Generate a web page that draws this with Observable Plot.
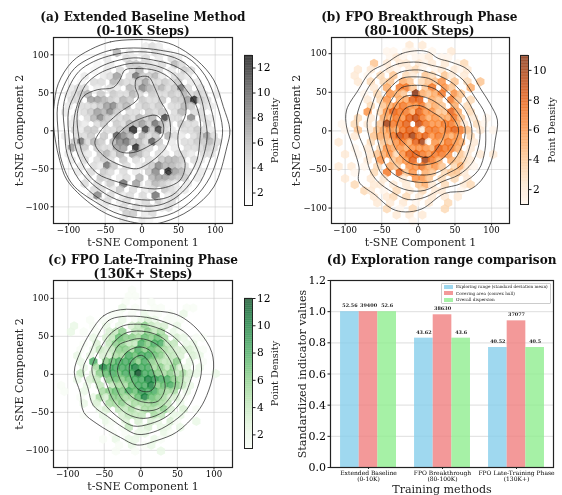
<!DOCTYPE html>
<html><head><meta charset="utf-8">
<script src="https://cdn.jsdelivr.net/npm/d3@7"></script>
<script src="https://cdn.jsdelivr.net/npm/@observablehq/plot@0.6"></script>
<style>
html,body{margin:0;padding:0;background:#fff}
#page{position:relative;width:562px;height:495px;overflow:hidden;font-family:"DejaVu Serif",serif;filter:blur(.3px)}
#page svg{position:absolute;background:transparent;overflow:visible}
.t{position:absolute;font-weight:bold;font-size:12.1px;line-height:14px;text-align:center;color:#111;white-space:nowrap;transform:translateX(-50%)}
#legend{position:absolute;left:441px;top:282.5px;width:110px;height:21px;background:rgba(255,255,255,.85);border:.5px solid #ccc;border-radius:1px;box-sizing:border-box}
#legend div{position:absolute;left:14px;font-size:4.2px;line-height:5px;white-space:nowrap;color:#222}
#legend i{position:absolute;left:1.5px;width:9px;height:4px}
</style></head><body><div id="page"></div>
<script>
// hexbin lattice (t-SNE units)
const colsE=[-108.9,-100.1,-91.3,-82.5,-73.7,-64.9,-56.1,-47.3,-38.5,-29.7,-20.9,-12.1,-3.3,5.5,14.3,23.1,31.9,40.7,49.5,58.3,67.1,75.9,84.7,93.5,102.3,111.1];
const colsO=[-113.3,-104.5,-95.7,-86.9,-78.1,-69.3,-60.5,-51.7,-42.9,-34.1,-25.3,-16.5,-7.7,1.1,9.9,18.7,27.5,36.3,45.1,53.9,62.7,71.5,80.3,89.1,97.9,106.7];
const rowY=[110.9,103,95.2,87.35,79.5,71.65,63.8,55.95,48.1,40.25,32.4,24.55,16.7,8.85,1,-6.85,-14.7,-22.55,-30.4,-38.25,-46.1,-53.95,-61.8,-69.65,-77.5,-85.35,-93.2,-101,-108.9,-116.8];
// per row: column index, density, column index, density ...
const gridA=[
[13,3,14,4,15,3],
[9,6,11,3,13,3,15,4,16,3,17,2],
[7,3,10,4,11,3,13,4,15,3,17,4,18,3],
[6,2,8,3,11,5,12,5,13,4,14,4,15,3,16,4,18,6,19,4],
[5,2,7,3,9,4,11,4,12,6,14,4,15,4,17,3,19,5,20,4],
[4,3,7,3,8,4,9,7,11,4,12,9,13,5,14,5,15,6,16,3,18,4,19,4,20,3],
[3,2,5,4,6,4,8,6,9,5,10,4,11,4,12,5,13,7,14,4,15,4,16,5,17,4,18,5,20,3,21,3],
[2,3,3,4,4,4,6,3,8,4,9,3,11,6,12,5,13,8,14,6,15,5,16,6,17,4,18,5,19,9,20,4,22,4],
[1,3,2,4,3,5,4,6,6,5,8,5,9,4,10,4,11,6,12,4,14,5,15,4,16,4,17,5,18,4,19,6,20,4,21,5,22,4,24,3],
[2,4,3,4,5,7,6,7,7,6,8,5,9,4,10,6,11,5,13,5,14,4,15,4,16,5,18,5,19,5,20,7,21,12,22,5,23,4],
[1,3,3,4,4,4,5,4,6,5,7,7,8,8,9,5,10,6,12,4,13,5,14,4,15,5,17,4,18,4,19,6,20,5,22,4,23,3],
[1,3,3,3,4,4,5,5,6,7,7,6,8,8,9,5,11,4,12,4,14,5,15,4,16,5,18,4,19,6,21,4,22,4],
[2,3,4,4,5,6,6,8,7,5,8,4,9,4,10,5,11,4,12,6,13,5,14,6,16,11,17,4,18,4,20,8,22,4,23,3],
[2,3,3,4,4,3,6,4,7,5,9,5,10,4,11,6,12,6,13,7,14,5,15,9,16,6,17,4,19,5,20,4,21,4,23,4],
[2,4,3,3,4,5,5,5,7,4,8,4,9,5,10,6,11,12,13,11,14,5,15,11,16,4,17,3,19,4,20,4,21,5,22,4,23,3],
[1,3,3,4,4,4,5,5,7,5,9,10,10,8,11,6,13,6,14,4,15,5,17,6,18,4,19,3,21,4,22,5,23,7,24,4],
[1,3,2,5,3,9,4,4,5,6,6,5,8,6,9,8,10,9,11,6,12,6,13,4,14,10,15,5,17,3,19,4,20,4,21,5,22,5,23,6,24,4],
[2,7,3,4,4,5,6,5,7,4,8,4,9,7,10,7,12,12,13,5,14,4,16,4,18,3,20,4,21,4,22,4,23,5,24,4],
[1,3,3,4,4,3,6,5,7,6,8,4,9,6,11,7,12,6,13,4,15,4,16,3,18,4,19,4,20,3,22,4,23,4],
[2,3,4,4,6,4,7,5,8,4,10,5,12,4,14,4,15,3,16,5,17,6,18,6,19,5,21,4,22,3],
[3,3,5,4,6,3,7,9,8,5,10,4,12,3,13,4,14,5,15,8,16,6,17,6,18,5,19,4,21,3],
[3,3,5,4,7,5,8,4,10,4,12,3,14,5,15,8,17,12,18,7,19,6,20,4,22,3],
[4,3,6,5,7,4,9,3,10,4,12,6,14,6,15,7,16,7,17,6,18,5,19,5,21,3],
[4,4,6,4,8,5,10,9,12,7,14,4,15,6,16,5,17,4,18,3,20,3],
[5,4,6,4,8,3,9,5,11,4,13,3,14,4,16,5,17,4,18,3,19,3],
[5,3,6,8,8,4,10,3,11,4,13,4,15,9,17,3,18,4],
[6,3,7,4,9,3,10,4,12,3,13,4,15,5,16,3,17,4],
[7,3,9,2,10,4,12,4,14,4,15,3,16,3,17,4],
[10,5,11,5,13,3,14,4],
[10,3,13,3,14,2]];
const gridB=[
[11,2,13,2],
[8,1,9,1,11,1,12,1,15,1,18,2],
[8,1,9,2,10,1,12,1,13,1,14,2,16,1,17,1],
[6,4,8,2,10,2,11,2,13,2,14,1,15,2,17,2,19,1,20,3],
[3,2,5,2,7,1,8,2,9,1,11,2,12,3,13,1,15,1,16,2,18,2,19,1,20,2],
[3,2,5,1,7,3,9,4,11,3,12,2,14,4,15,3,17,4,18,2,20,2],
[3,2,5,3,7,3,8,4,10,5,11,4,13,3,14,4,15,4,16,6,18,4,20,3,22,4],
[6,2,8,5,10,7,11,7,12,4,14,4,15,7,17,6,18,4,21,5],
[4,1,6,3,8,6,9,5,10,4,12,11,13,5,14,4,15,5,16,7,18,6,19,4],
[5,2,7,3,8,6,10,5,11,5,12,8,13,8,15,5,16,4,18,7,19,4,21,3],
[5,3,7,4,8,5,9,6,10,7,11,6,12,6,13,7,14,4,15,5,16,4,18,5,20,3],
[5,6,7,3,8,6,9,8,10,7,11,7,12,5,13,8,14,6,15,6,16,4,17,4,18,8,19,5,21,3],
[3,3,5,2,7,5,8,5,9,7,10,6,11,8,12,9,13,7,14,5,15,6,16,5,17,5,18,7,19,4,21,2,23,1],
[1,1,3,3,5,2,7,4,8,10,9,7,10,7,11,8,13,9,14,7,15,6,16,6,17,7,18,7,19,5,20,2,22,3,23,1],
[1,1,3,4,5,2,6,4,7,5,8,6,9,5,10,7,11,8,12,7,13,2,14,7,15,7,16,6,17,7,18,8,19,7,20,4,22,2,24,1],
[3,2,6,4,7,5,8,5,9,7,10,9,11,8,12,10,13,7,14,8,15,6,16,7,17,6,18,5,19,6,21,3],
[0,2,5,3,7,4,8,4,9,6,10,7,11,5,12,8,13,10,14,1,15,6,16,5,17,7,18,6,19,5,21,2],
[3,1,5,2,7,3,8,6,9,5,10,6,11,5,12,6,13,6,14,6,15,5,16,8,17,7,18,7,19,5,21,2],
[1,2,3,1,5,2,6,4,7,5,8,6,9,3,10,6,11,8,12,8,13,7,14,6,15,7,16,7,17,6,19,4,20,2,22,2,24,2],
[5,2,7,6,9,4,10,5,11,6,12,8,14,10,15,7,16,5,18,5,19,4,20,3,21,2],
[0,2,2,2,4,1,6,3,8,5,9,4,11,6,12,6,13,7,14,5,15,6,16,4,18,3,19,5,20,2,21,1],
[3,1,6,3,8,7,10,8,11,4,12,6,14,5,15,4,17,3,18,4,19,4,20,2],
[1,2,5,2,7,2,10,2,12,6,13,6,14,4,16,3,18,3,20,2],
[3,3,6,2,7,2,9,2,11,2,13,4,14,5,15,2,17,3,20,2,21,3],
[4,3,5,2,7,1,9,3,11,2,13,3,15,2,16,2,19,1],
[6,2,8,2,9,3,11,3,13,2,15,2,17,2,19,2],
[6,2,8,2,10,2,12,1,14,2,17,3],
[8,3,10,1,12,3,17,3],
[9,2,11,2,13,2],
[12,1]];
const gridC=[
[11,1],
[11,1,12,1],
[10,1,14,1],
[10,2,12,1,15,1,16,1,20,1,21,1],
[8,1,9,1,11,1,13,2,14,1,15,1,17,1,19,2],
[5,1,7,1,8,1,10,2,12,1,13,2,14,3,15,2,17,1,18,1,19,1],
[2,2,5,1,7,2,9,2,11,3,12,4,13,6,14,4,15,3,16,3,18,2],
[2,2,4,1,6,1,8,3,9,4,10,6,12,4,13,4,14,6,15,4,16,5,18,2,19,1],
[5,2,7,3,8,4,9,7,10,6,11,6,12,5,13,7,14,6,15,7,16,5,18,3,19,2,21,1,22,1],
[4,1,6,3,8,4,9,6,10,6,11,4,12,4,13,8,14,6,15,8,16,8,17,4,18,4,20,2,21,2],
[3,1,5,2,6,4,7,3,8,4,9,6,10,6,11,5,12,8,13,6,14,7,15,6,16,5,17,4,18,3,19,3,20,3,21,2,22,1],
[3,2,5,2,7,3,8,3,9,5,10,5,11,8,12,7,13,8,14,8,15,7,16,6,17,4,18,4,19,3,21,3,22,2],
[3,2,5,8,7,6,8,7,9,8,10,8,11,8,12,6,13,8,14,6,15,5,16,4,17,4,18,6,20,2,22,1],
[4,2,6,5,7,10,8,8,9,8,10,8,11,8,12,10,13,8,14,8,15,5,16,6,17,4,18,6,19,3,20,2,22,2],
[3,4,5,3,6,6,7,7,8,8,9,7,10,8,11,8,12,12,13,8,14,8,15,6,16,5,17,6,18,4,19,5,20,3,21,2,24,2],
[3,2,5,3,6,4,8,6,9,7,10,6,11,7,12,8,13,8,14,10,15,9,16,8,17,8,18,6,19,5,20,3],
[0,1,4,2,6,4,8,4,9,5,10,5,11,7,12,8,13,8,14,10,15,6,16,7,17,8,18,6,19,4,20,2],
[1,1,4,2,7,5,8,6,9,7,10,6,11,8,12,7,13,9,14,8,15,8,16,6,17,5,18,5,20,2],
[3,1,5,2,6,5,7,3,8,6,9,6,10,5,11,5,12,7,13,10,14,7,15,6,16,5,17,3,18,3,19,1],
[4,2,6,3,8,5,9,5,10,6,11,4,12,5,13,5,14,5,15,6,16,5,17,4,19,2],
[6,2,7,3,9,4,10,4,11,5,12,3,13,5,14,5,15,4,16,6,17,3,19,3,21,1],
[4,1,7,2,10,3,11,4,12,4,13,4,15,5,16,4,18,2,19,2],
[7,2,8,1,10,3,12,3,14,3,15,2,17,3,18,1,21,2],
[8,1,10,1,11,4,13,2,14,3,16,2,17,2,19,2],
[8,1,10,1,12,2,13,2,16,2,17,1],
[7,1,9,2,11,2,12,2,15,2,16,1],
[9,1,11,2,13,1,14,2],
[9,1,12,1,16,2],
[],
[]];
// density contour levels, read as x,y pairs
const contoursA=[
[-11,120,-43,117,-70,107,-95,91,-114,62,-120,32,-121,14,-118,-12,-112,-39,-102,-65,-70,-96,-39,-113,7,-123,30,-120,66,-104,98,-74,116,-21,120,1,111,32,98,67,75,93,43,113,16,119],
[-11,109,-43,106,-70,96,-92,82,-107,58,-115,32,-114,-4,-111,-34,-95,-70,-61,-95,-30,-110,11,-115,43,-108,70,-90,93,-61,107,-21,110,3,102,36,86,73,61,97,25,106],
[-11,104,-39,100,-66,91,-86,78,-100,56,-107,32,-105,-4,-102,-30,-86,-64,-57,-90,-25,-101,11,-106,43,-98,75,-74,91,-43,100,-12,98,14,89,45,75,73,52,93,20,102],
[-11,96,-39,91,-61,82,-82,67,-91,49,-100,27,-99,-12,-95,-34,-76,-62,-48,-84,-20,-95,16,-99,43,-90,66,-69,82,-39,89,-8,86,18,80,45,64,73,43,86,16,93],
[-11,89,-36,84,-59,75,-77,60,-86,40,-92,18,-93,-8,-86,-34,-68,-63,-43,-78,-18,-88,16,-91,41,-85,59,-67,75,-39,79,-12,80,10,73,36,59,56,43,75,18,86],
[-23,80,-7,82,20,79,41,67,57,45,60,23,50,-1,50,-21,59,-43,52,-65,25,-76,-5,-74,-34,-67,-61,-56,-80,-32,-86,-8,-88,23,-80,45,-61,54,-39,57,-30,67],
[-7,69,9,71,18,56,25,40,36,21,39,-1,32,-23,2,-47,-11,-50,-48,-36,-64,-17,-57,-1,-32,23,-5,43,-9,58],
[-38.6,-12,-25,3,-6.8,14,20.5,20,29.5,7.5,27,-8,11.4,-19,-11,-28.5,-29.6,-27.6,-39.6,-19],
[33,-55,36,-52,40,-55,37,-58]];
const contoursB=[
[0,104,-23,100,-45,87,-66,76,-82,53,-98,27,-98,5,-89,-21,-81,-47,-81,-66,-59,-83,-36,-101,-18,-105,5,-101,36,-81,68,-77,86,-64,100,-38,105,-12,108,14,98,35,86,53,68,79,45,89,27,94,14,102],
[0,89,-27,87,-45,79,-61,66,-75,44,-84,18,-82,-3,-73,-25,-66,-51,-55,-66,-36,-79,-14,-89,9,-86,32,-75,59,-68,82,-51,91,-25,92,1,91,22,77,44,61,66,41,79,18,85],
[0,79,-25,76,-41,66,-55,53,-64,31,-70,10,-66,-12,-59,-34,-52,-53,-36,-68,-14,-77,9,-77,32,-66,55,-57,73,-42,82,-21,84,1,77,22,64,44,48,61,27,72,14,76],
[-2,70,-23,68,-39,55,-50,40,-57,18,-57,-3,-52,-25,-43,-47,-27,-60,-5,-66,18,-66,36,-57,59,-44,70,-21,73,3,64,27,45,46,27,61,14,68],
[-5,59,-23,56,-34,44,-43,27,-48,5,-45,-16,-36,-38,-20,-53,0,-57,23,-55,45,-42,59,-21,64,3,55,22,39,40,25,53,11,58],
[-5,46,-20,44,-32,31,-39,10,-36,-12,-27,-29,-11,-42,9,-44,30,-38,45,-23,55,1,45,20,30,33,14,42],
[-5,33,-18,29,-27,14,-30,-3,-16,-19,0,-32,14,-34,27,-21,36,-3,36,12,18,25,5,32]];
const contoursC=[
[-28,85,-51,77,-69,55,-83,29,-91,3,-83,-24,-78,-50,-60,-65,-28,-83,-5,-93,22,-87,49,-76,77,-50,90,-28,99,3,97,29,81,55,63,71,45,80,8,84],
[-26,76,-44,71,-58,53,-69,29,-79,7,-72,-19,-65,-41,-46,-55,-24,-70,-5,-79,17,-76,40,-65,63,-46,77,-19,83,7,77,33,63,53,40,66,8,75],
[-24,64,-42,53,-56,33,-67,7,-60,-15,-51,-37,-33,-55,-10,-68,13,-65,36,-55,56,-35,67,-11,72,11,61,33,40,53,13,64,-5,66],
[-19,55,-35,44,-46,29,-53,7,-46,-15,-37,-35,-19,-52,4,-58,26,-52,45,-37,56,-15,57,7,47,29,31,47,8,56],
[-17,44,-31,38,-40,18,-42,3,-35,-15,-24,-35,-1,-47,22,-46,38,-33,47,-15,45,7,33,29,17,42,-1,47],
[-17,31,-28,18,-32,5,-24,-15,-12,-30,6,-37,24,-35,33,-19,31,-4,22,16,13,31,-1,36],
[-8,22,-15,14,-15,0,-8,-15,1,-22,13,-22,20,-13,17,3,10,18,1,25]];
// bar panel
const methods=["Extended Baseline\n(0-10K)","FPO Breakthrough\n(80-100K)","FPO Late-Training Phase\n(130K+)"];
const seriesNames=["Exploring range (standard deviation mean)","Covering area (convex hull)","Overall dispersion"];
const seriesColors=["#87CEEB","#F08080","#90EE90"];
const normalized=[[1,1,1],[0.83,0.98,0.83],[0.77,0.941,0.77]];
const rawLabels=[["52.56","39400","52.6"],["43.62","38630","43.6"],["40.52","37077","40.5"]];

const page=document.getElementById("page");
const serif='"DejaVu Serif",serif';
function place(el,l,t){el.style.left=l+"px";el.style.top=t+"px";page.appendChild(el);}
function title(lines,cx,top){const d=document.createElement("div");d.className="t";d.innerHTML=lines.join("<br>");d.style.left=cx+"px";d.style.top=top+"px";page.appendChild(d);}

function hexPanel(o){
  const cells=o.grid.flatMap((row,r)=>{const cols=r%2?colsO:colsE,out=[];
    for(let i=0;i<row.length;i+=2)out.push({x:cols[row[i]],y:rowY[r],v:row[i+1]});return out;});
  const lines=o.contours.flatMap((c,id)=>{const out=[];for(let i=0;i<c.length;i+=2)out.push({id,x:c[i],y:c[i+1]});return out;});
  const svg=Plot.plot({width:o.w,height:250,marginLeft:o.ml,marginRight:o.w-o.ml-o.pw,marginTop:o.mt,marginBottom:250-o.mt-o.ph,
    style:{fontFamily:serif,background:"transparent"},
    x:{domain:o.xd,ticks:[-100,-50,0,50,100],label:null},
    y:{domain:o.yd,ticks:[-100,-50,0,50,100],label:null},
    color:{type:"linear",scheme:o.scheme,domain:[1,o.max]},
    marks:[
      Plot.gridX([-100,-50,0,50,100],{stroke:"#bbb",strokeOpacity:.4,strokeWidth:1.2}),
      Plot.gridY([-100,-50,0,50,100],{stroke:"#bbb",strokeOpacity:.4,strokeWidth:1.2}),
      Plot.hexagon(cells,{x:"x",y:"y",fill:"v",r:4.1,fillOpacity:.8,stroke:"none"}),
      Plot.line(lines,{x:"x",y:"y",z:"id",curve:"catmull-rom-closed",stroke:"#222",strokeOpacity:.8,strokeWidth:.9,clip:true}),
      Plot.frame({stroke:"#222",strokeWidth:1.2}),
      Plot.axisX({ticks:[-100,-50,0,50,100],tickSize:2.5,tickPadding:1,fontSize:8.6,label:null,stroke:"#222"}),
      Plot.axisY({ticks:[-100,-50,0,50,100],tickSize:2.5,tickPadding:2,fontSize:8.6,label:null,stroke:"#222"}),
      Plot.text(["t-SNE Component 1"],{frameAnchor:"bottom",dy:o.xdy,lineAnchor:"middle",textAnchor:"middle",fontSize:11,fill:"#222"}),
      Plot.text(["t-SNE Component 2"],{frameAnchor:"left",dx:o.ydx,lineAnchor:"middle",textAnchor:"middle",rotate:-90,fontSize:11,fill:"#222"})
    ]});
  place(svg,o.l,o.t);
  const steps=d3.range(1,o.max,0.05);
  const bar=Plot.plot({width:o.cw+40,height:o.ch+20,marginLeft:8,marginRight:32,marginTop:10,marginBottom:10,
    style:{fontFamily:serif,background:"transparent"},
    x:{domain:[0,1],axis:null},
    y:{domain:[1,o.max],label:null},
    color:{type:"linear",scheme:o.scheme,domain:[1,o.max]},
    marks:[
      Plot.rect(steps,{x1:()=>0,x2:()=>1,y1:d=>d,y2:d=>d+0.06,fill:d=>d,fillOpacity:.8,inset:0}),
      Plot.frame({stroke:"#222",strokeWidth:1}),
      Plot.axisY(d3.range(2,o.max+.01,2),{anchor:"right",tickSize:2.5,tickPadding:2,fontSize:10.6,label:null,stroke:"#222"}),
      Plot.text(["Point Density"],{frameAnchor:"right",dx:o.cdx,lineAnchor:"middle",textAnchor:"middle",rotate:-90,fontSize:9.7,fill:"#222"})
    ]});
  place(bar,o.cl-8,o.ct-10);
}

hexPanel({grid:gridA,contours:contoursA,scheme:"Greys",max:13,l:0,t:0,w:240,ml:53,pw:179,mt:37,ph:186,
  xd:[-120.5,123.6],yd:[-122,122.8],xdy:18.8,ydx:-33.7,cl:243.5,ct:55,cw:8,ch:150,cdx:22});
hexPanel({grid:gridB,contours:contoursB,scheme:"Oranges",max:11,l:281,t:0,w:232,ml:50,pw:178,mt:37,ph:186,
  xd:[-118.6,124.5],yd:[-120,121],xdy:18.8,ydx:-35,cl:519.7,ct:55,cw:8,ch:149,cdx:23});
hexPanel({grid:gridC,contours:contoursC,scheme:"Greens",max:12,l:0,t:245,w:240,ml:53,pw:179,mt:35,ph:187,
  xd:[-119.4,125.3],yd:[-122.6,123.5],xdy:18.8,ydx:-33.7,cl:243.5,ct:298,cw:8,ch:150,cdx:22});

const bars=normalized.flatMap((vals,g)=>vals.map((v,s)=>({g,s,v,label:rawLabels[g][s],
  x1:g-0.378+s*0.252,x2:g-0.378+(s+1)*0.252,xm:g-0.252+s*0.252})));
const dsvg=Plot.plot({width:281,height:250,marginLeft:49,marginRight:9,marginTop:35,marginBottom:28,
  style:{fontFamily:serif,background:"transparent"},
  x:{domain:[-0.514,2.5],label:null},
  y:{domain:[0,1.2],label:null},
  marks:[
    Plot.gridY([0.2,0.4,0.6,0.8,1.0],{stroke:"#bbb",strokeOpacity:.4,strokeWidth:1.2}),
    Plot.rect(bars,{x1:"x1",x2:"x2",y1:()=>0,y2:"v",fill:d=>seriesColors[d.s],fillOpacity:.8}),
    Plot.text(bars,{x:"xm",y:"v",text:"label",dy:-6,fontSize:4.9,fontWeight:"bold",fill:"#222"}),
    Plot.frame({stroke:"#222",strokeWidth:1.2}),
    Plot.axisX([0,1,2],{tickFormat:i=>methods[i],tickSize:2,tickPadding:1,fontSize:6,label:null,lineHeight:1.05,stroke:"#222"}),
    Plot.axisY([0,0.2,0.4,0.6,0.8,1,1.2],{tickFormat:d3.format(".1f"),tickSize:2.5,tickPadding:2,fontSize:11,label:null,stroke:"#222"}),
    Plot.text(["Training methods"],{frameAnchor:"bottom",dy:22,lineAnchor:"middle",textAnchor:"middle",fontSize:11.1,fill:"#222"}),
    Plot.text(["Standardized indicator values"],{frameAnchor:"left",dx:-28,lineAnchor:"middle",textAnchor:"middle",rotate:-90,fontSize:11.1,fill:"#222"})
  ]});
place(dsvg,281,245);

const leg=document.createElement("div");leg.id="legend";
seriesNames.forEach((n,i)=>{const s=document.createElement("i");s.style.top=(1.2+i*6.5)+"px";s.style.background=seriesColors[i];s.style.opacity=.8;leg.appendChild(s);
  const t=document.createElement("div");t.textContent=n;t.style.top=(.7+i*6.5)+"px";leg.appendChild(t);});
page.appendChild(leg);

title(["(a) Extended Baseline Method","(0-10K Steps)"],142.8,10);
title(["(b) FPO Breakthrough Phase","(80-100K Steps)"],419.3,10);
title(["(c) FPO Late-Training Phase","(130K+ Steps)"],143,253);
title(["(d) Exploration range comparison"],441.7,253);
</script></body></html>
